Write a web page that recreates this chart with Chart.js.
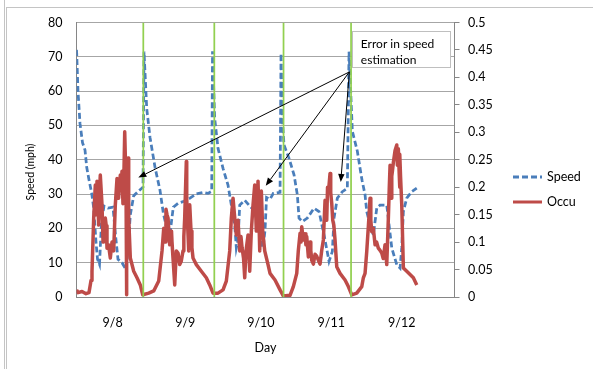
<!DOCTYPE html>
<html>
<head>
<meta charset="utf-8">
<script src="https://cdn.jsdelivr.net/npm/chart.js@4.4.1/dist/chart.umd.min.js"></script>
<style>
  html,body{margin:0;padding:0;background:#fff;}
  #wrap{position:relative;width:593px;height:369px;overflow:hidden;background:#fff;}
  #c{position:absolute;left:0;top:0;}
  .ln{position:absolute;background:#c4c4c4;}
</style>
</head>
<body>
<div id="wrap">
  <canvas id="c" width="593" height="369"></canvas>
  <div class="ln" style="left:4px;top:0;width:1px;height:369px;"></div>
  <div class="ln" style="left:6px;top:7px;width:1px;height:362px;"></div>
  <div class="ln" style="left:6px;top:7px;width:587px;height:1px;"></div>
</div>
<script>
// ---- data (x in hours from start of record) ----
const dayLabels = ['9/8', '9/9', '9/10', '9/11', '9/12'];
const labelHours = [12.5, 37.7, 63.9, 88.3, 112.7];

const speedHours = [0, 0.07, 0.52, 1.21, 2.08, 2.95, 3.54, 4.23, 5.27, 5.96, 6.76, 7.28, 7.97, 8.67, 9.53, 10.92, 12.65, 13.52, 14.38, 15.77, 17.16, 17.85, 18.65, 19.83, 21.42, 23.05, 23.4,
  24.33, 25.48, 27.21, 28.94, 30.09, 31.02, 32.41, 33.55, 35.18, 37.26, 39.34, 41.42, 43.85, 45.58, 46.86, 47.14,
  47.9, 49.05, 50.78, 52.51, 53.66, 54.84, 55.39, 55.98, 56.57, 58.3, 60.03, 61.77, 62.9, 63.95, 64.64, 65.34, 65.86, 67.07, 68.21, 70.54, 70.88,
  71.33, 71.92, 73.66, 75.39, 76.53, 77.12, 78.27, 80.0, 82.32, 84.06, 85.79, 87.52, 88.67, 89.25, 90.4, 92.13, 93.86, 94.45,
  95.6, 97.33, 98.27, 98.96, 100.0, 100.59, 101.73, 102.88, 104.06, 105.2, 107.52, 109.26, 110.99, 112.13, 112.72, 113.28, 114.45, 116.19, 117.92];
const speedMph = [72, 71, 60, 50.6, 45, 42.8, 37.8, 34.6, 30.2, 25.9, 16, 11, 9.5, 22, 26.5, 25.9, 26.2, 18, 11, 10, 8, 14, 24, 29.5, 30.8, 32, 71.5,
  55, 46.5, 37.8, 31.1, 24.4, 21, 18.6, 26.2, 27.3, 27.9, 28.8, 30, 30.5, 30.2, 30.8, 71.6,
  52, 43.3, 37.5, 32.6, 26.8, 21, 14.3, 16.6, 26.8, 28.2, 26.5, 25, 21, 16.6, 14.3, 19.5, 29, 28.5, 30.2, 30.5, 71,
  52, 44.3, 40.4, 35.6, 29.8, 23, 22, 23, 25.9, 24.9, 18.1, 10.4, 13.3, 23, 28.8, 30.7, 31.7, 71.5,
  48.3, 42.5, 37.5, 34, 29.8, 24.9, 21, 18.1, 25.9, 26.8, 26.8, 14.3, 9.4, 8.4, 14.3, 24.9, 28.8, 30.7, 31.7];

const occuHours = [
  0, 0.52, 1.91, 3.29, 4.33, 5.03, 5.37, 5.96, 6.52, 6.8, 7.11, 7.69, 7.95, 8.25, 8.84, 9.2, 9.43, 9.98, 10.3, 10.57, 11.1, 11.72, 12.3, 12.89,
  13.45, 14.04, 14.6, 15.18, 15.5, 15.77, 16.1, 16.36, 16.71, 17.16, 17.26, 17.5, 17.85, 18.09, 18.65, 19.83, 20.97, 22.11, 22.95,
  25.03, 26.76, 28.49, 29.64, 30.23, 30.7, 31.0, 31.37, 31.72, 32.31, 32.93, 33.1, 33.45, 34.04, 34.59, 35.2, 35.77, 36.3, 36.92, 37.2, 37.5,
  38.06, 38.2, 38.41, 38.89, 39.0, 39.24, 39.69, 40.0, 40.38, 41.53, 43.26, 44.99, 46.17, 47.31,
  49.05, 50.78, 51.92, 53.1, 53.66, 54.25, 54.84, 55.39, 55.98, 56.57, 57.0, 57.37, 57.9, 58.3, 58.75, 59.45, 60.03, 60.59, 61.18, 61.77,
  62.32, 62.91, 63.5, 64.06, 64.54, 65.23, 66.38, 67.07, 68.8, 70.54, 71.68,
  74.0, 75.15, 76.33, 76.88, 77.47, 77.8, 78.06, 78.61, 79.2, 79.5, 79.79, 80.35, 80.94, 81.2, 81.53, 82.1, 82.67, 83.2, 83.81, 84.4, 84.99,
  85.55, 86.14, 86.4, 86.72, 87.0, 87.28, 87.87, 88.1, 88.46, 88.8, 89.2, 89.6, 90.19, 91.33, 93.07, 94.21, 95.39,
  97.12, 98.86, 99.41, 100.0, 100.59, 101.14, 101.4, 101.73, 102.0, 102.32, 102.88, 103.47, 104.0, 104.61, 105.2, 105.79, 106.3, 106.93, 107.52,
  108.08, 108.4, 108.67, 109.0, 109.26, 109.5, 109.81, 110.4, 110.99, 111.2, 111.54, 111.8, 111.96, 112.1, 112.3, 112.72, 113.28, 114.45, 115.6, 116.74, 117.92];
const occuValues = [
  0.013, 0.008, 0.01, 0.006, 0.008, 0.03, 0.047, 0.144, 0.204, 0.15, 0.211, 0.131, 0.19, 0.222, 0.168, 0.1, 0.12, 0.144, 0.13, 0.089, 0.095, 0.071, 0.1, 0.084,
  0.168, 0.216, 0.18, 0.222, 0.2, 0.229, 0.17, 0.204, 0.301, 0.204, 0.004, 0.204, 0.253, 0.144, 0.071, 0.047, 0.035, 0.022, 0.004,
  0.007, 0.011, 0.029, 0.084, 0.125, 0.1, 0.16, 0.15, 0.144, 0.095, 0.12, 0.1, 0.071, 0.022, 0.084, 0.08, 0.059, 0.065, 0.084, 0.11, 0.144,
  0.247, 0.18, 0.144, 0.084, 0.12, 0.168, 0.12, 0.09, 0.071, 0.059, 0.047, 0.035, 0.022, 0.007,
  0.007, 0.013, 0.029, 0.084, 0.144, 0.18, 0.144, 0.113, 0.14, 0.084, 0.11, 0.09, 0.07, 0.035, 0.084, 0.113, 0.047, 0.12, 0.168, 0.204,
  0.12, 0.211, 0.084, 0.193, 0.12, 0.084, 0.059, 0.043, 0.031, 0.013, 0.002,
  0.003, 0.019, 0.043, 0.085, 0.116, 0.1, 0.128, 0.104, 0.115, 0.095, 0.11, 0.073, 0.1, 0.085, 0.067, 0.06, 0.078, 0.075, 0.067, 0.06, 0.085,
  0.104, 0.176, 0.16, 0.14, 0.2, 0.189, 0.225, 0.19, 0.17, 0.14, 0.13, 0.104, 0.055, 0.043, 0.031, 0.019, 0.004,
  0.007, 0.019, 0.035, 0.043, 0.083, 0.128, 0.15, 0.18, 0.14, 0.119, 0.125, 0.095, 0.1, 0.089, 0.085, 0.08, 0.07, 0.095, 0.059,
  0.144, 0.2, 0.24, 0.18, 0.22, 0.23, 0.245, 0.267, 0.277, 0.24, 0.27, 0.23, 0.2, 0.26, 0.22, 0.168, 0.053, 0.047, 0.041, 0.035, 0.022];

const dayBreakHours = [23.15, 47.76, 71.75, 95.15];

const noteLines = ['Error in speed', 'estimation'];
const noteOrigin = [94.56, 65.6];           // [hour, mph]
const arrowTipHours = [21.42, 65.58, 91.58];
const arrowTipMph = [34.8, 32.4, 33.5];
const noteBoxHours = [95.6, 129.6];
const noteBoxMph = [77.5, 67.0];

// ---- chart ----
const FONT = 'Lato, "Open Sans", sans-serif';
const tickFont = {family: FONT, size: 12.5};
const blue = '#4A7EBB', red = '#BE4B48', green = '#92D050';

const greenData = [];
dayBreakHours.forEach(h => { greenData.push({x: h, y: 0}, {x: h, y: 80}, {x: h, y: null}); });

const overlay = {
  id: 'overlay',
  afterDatasetsDraw(chart) {
    const {ctx, scales: {x, y}} = chart;
    ctx.save();
    const ox = x.getPixelForValue(noteOrigin[0]), oy = y.getPixelForValue(noteOrigin[1]);
    ctx.strokeStyle = '#000'; ctx.fillStyle = '#000'; ctx.lineWidth = 1;
    arrowTipHours.forEach((h, i) => {
      const tx = x.getPixelForValue(h), ty = y.getPixelForValue(arrowTipMph[i]);
      const ang = Math.atan2(ty - oy, tx - ox);
      const L = 8, W = 3.2;
      const bx = tx - L * Math.cos(ang), by = ty - L * Math.sin(ang);
      ctx.beginPath(); ctx.moveTo(ox, oy); ctx.lineTo(bx, by); ctx.stroke();
      ctx.beginPath();
      ctx.moveTo(tx, ty);
      ctx.lineTo(bx + W * Math.sin(ang), by - W * Math.cos(ang));
      ctx.lineTo(bx - W * Math.sin(ang), by + W * Math.cos(ang));
      ctx.closePath(); ctx.fill();
    });
    const l = x.getPixelForValue(noteBoxHours[0]), r = x.getPixelForValue(noteBoxHours[1]);
    const t = y.getPixelForValue(noteBoxMph[0]), b = y.getPixelForValue(noteBoxMph[1]);
    ctx.fillStyle = '#fff';
    ctx.fillRect(l, t, r - l, b - t);
    ctx.strokeStyle = '#BFBFBF'; ctx.lineWidth = 1;
    ctx.strokeRect(Math.round(l) + 0.5, Math.round(t) + 0.5, Math.round(r - l), Math.round(b - t));
    ctx.fillStyle = '#000';
    ctx.font = '12px ' + FONT;
    ctx.textBaseline = 'middle'; ctx.textAlign = 'left';
    noteLines.forEach((s, i) => ctx.fillText(s, l + 8.5, t + 13.5 + i * 15.3));
    ctx.restore();
  },
  afterDraw(chart) {
    const {ctx} = chart;
    ctx.save();
    ctx.translate(31, 172);
    ctx.rotate(-Math.PI / 2);
    ctx.fillStyle = '#000';
    ctx.font = '10.5px ' + FONT;
    ctx.textAlign = 'center'; ctx.textBaseline = 'middle';
    ctx.fillText('Speed (mph)', 0, 0);
    ctx.restore();
    ctx.save();
    const items = chart.data.datasets.slice(0, 2);
    ctx.font = '12.5px ' + FONT;
    ctx.textBaseline = 'middle'; ctx.textAlign = 'left';
    items.forEach((ds, i) => {
      const yy = 177 + i * 25;
      ctx.strokeStyle = ds.borderColor; ctx.lineWidth = 3;
      ctx.setLineDash(ds.borderDash || []);
      ctx.beginPath(); ctx.moveTo(513, yy); ctx.lineTo(542, yy); ctx.stroke();
      ctx.setLineDash([]);
      ctx.fillStyle = '#000';
      ctx.fillText(ds.label, 547, yy);
    });
    ctx.restore();
  }
};

new Chart(document.getElementById('c'), {
  type: 'line',
  data: {
    datasets: [
      {label: 'Speed', data: speedHours.map((h, i) => ({x: h, y: speedMph[i]})), yAxisID: 'y',
       borderColor: blue, borderWidth: 2.75, borderDash: [6, 3], pointRadius: 0, tension: 0, order: 3},
      {label: 'Occu', data: occuHours.map((h, i) => ({x: h, y: occuValues[i]})), yAxisID: 'y1',
       borderColor: red, borderWidth: 3.5, pointRadius: 0, tension: 0, order: 2, borderJoinStyle: 'round'},
      {label: 'Day break', data: greenData, yAxisID: 'y',
       borderColor: green, borderWidth: 1.75, pointRadius: 0, spanGaps: false, order: 1}
    ]
  },
  options: {
    responsive: false, animation: false, devicePixelRatio: 1,
    layout: {padding: {left: 0, top: 22.5, right: 78.5, bottom: 0}},
    plugins: {legend: {display: false}, tooltip: {enabled: false}},
    scales: {
      x: {
        type: 'linear', min: 0, max: 131, position: 'bottom',
        afterFit: s => { s.height = 72; },
        afterBuildTicks: s => { s.ticks = labelHours.map(v => ({value: v})); },
        ticks: {callback: (v, i) => dayLabels[i], padding: 18, font: tickFont, color: '#000', autoSkip: false, maxRotation: 0},
        grid: {display: false, drawTicks: false},
        border: {display: true, color: '#868686'},
        title: {display: true, text: 'Day', font: tickFont, color: '#000', padding: {top: 0, bottom: 13.5}}
      },
      y: {
        position: 'left', min: 0, max: 80,
        afterFit: s => { s.width = 76.5; },
        ticks: {stepSize: 10, padding: 14, font: tickFont, color: '#000'},
        grid: {color: '#A6A6A6', drawTicks: false, lineWidth: 1},
        border: {display: true, color: '#868686'}
      },
      y1: {
        position: 'right', min: 0, max: 0.5,
        afterFit: s => { s.width = 60; },
        ticks: {stepSize: 0.05, padding: 8.5, font: tickFont, color: '#000', callback: v => String(+v.toFixed(2))},
        grid: {drawOnChartArea: false, drawTicks: true, tickLength: 5, color: '#868686'},
        border: {display: true, color: '#868686'}
      }
    }
  },
  plugins: [overlay]
});
</script>
</body>
</html>
